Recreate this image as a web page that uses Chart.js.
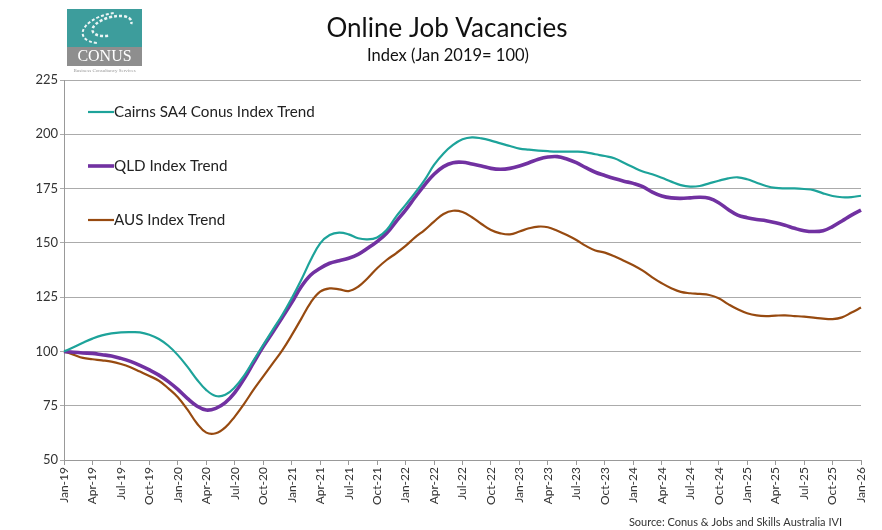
<!DOCTYPE html>
<html>
<head>
<meta charset="utf-8">
<title>Online Job Vacancies</title>
<script src="https://cdn.jsdelivr.net/npm/chart.js@4/dist/chart.umd.min.js"></script>
<style>
  html, body { margin: 0; padding: 0; background: #fff; }
  #wrap { width: 882px; height: 530px; }
</style>
</head>
<body>
<div id="wrap"><canvas id="chart" width="882" height="530"></canvas></div>
<script>
// --- Datos (índice Ene 2019 = 100), mensual Jan-19 .. Jan-26 ---
const MONTH_NAMES = ['Jan', 'Feb', 'Mar', 'Apr', 'May', 'Jun', 'Jul', 'Aug', 'Sep', 'Oct', 'Nov', 'Dec'];
const labels = [];
for (let yy = 19; yy <= 26; yy++) {
    for (let m = 0; m < 12; m++) {
        if (yy === 26 && m > 0) break;
        labels.push(MONTH_NAMES[m] + '-' + yy);
    }
}

const seriesNames = ['Cairns SA4 Conus Index Trend', 'QLD Index Trend', 'AUS Index Trend'];

const cairns = [
    100, 101.9, 104, 105.9, 107.4, 108.3, 108.8, 108.9, 108.8, 107.7, 105.7, 102.6,
    98.3, 93, 87.1, 82.2, 79.5, 80, 83.5, 89, 96, 103, 109.9, 116.8,
    124.5, 132.9, 142.1, 149.8, 153.6, 154.7, 153.9, 152.1, 151.6, 152.5, 155.9, 162.1,
    167.5, 173, 178.9, 185.9, 191.2, 195.1, 197.7, 198.6, 198.1, 197.1, 195.8, 194.6,
    193.4, 192.9, 192.5, 192.2, 192, 192, 192, 191.7, 190.8, 190, 189, 186.9,
    184.8, 182.9, 181.6, 180, 178.2, 176.6, 175.9, 176.2, 177.4, 178.6, 179.7, 180.2,
    179.3, 177.7, 176.2, 175.3, 175.1, 175.1, 174.8, 174.3, 172.8, 171.6, 171, 171.1,
    171.7
];

const qld = [
    100, 99.6, 99.3, 99.1, 98.5, 97.9, 96.8, 95.4, 93.6, 91.5, 89.1, 86.1,
    82.5, 78.4, 74.9, 73, 73.8, 76.4, 81, 87.5, 95, 102.2, 108.8, 115.6,
    122.5, 129.8, 135.2, 138.3, 140.6, 141.8, 142.9, 144.7, 147.5, 150.6, 154.4, 159.8,
    165.1, 171, 176.6, 181.6, 185.1, 186.9, 187.1, 186.3, 185.4, 184.3, 183.9, 184.3,
    185.4, 186.9, 188.5, 189.5, 189.7, 188.6, 186.9, 184.6, 182.5, 181, 179.6, 178.4,
    177.4, 175.9, 173.4, 171.6, 170.7, 170.5, 170.7, 171, 170.5, 168.5, 165.4, 162.8,
    161.6, 160.8, 160.2, 159.3, 158.1, 156.7, 155.6, 155.2, 155.6, 157.5, 160.1, 162.8,
    165.1
];

const aus = [
    100, 98.5, 97, 96.4, 95.9, 95.3, 94.2, 92.7, 90.7, 88.7, 86.5, 83,
    78.9, 73.3, 66.9, 62.6, 62.3, 65, 70, 76, 82.5, 88.5, 94.5, 100.5,
    107.5, 115, 122.5, 127.5, 129, 128.6, 127.8, 129.8, 133.7, 138.3, 142.1, 145.2,
    148.6, 152.5, 155.9, 159.8, 163.3, 164.8, 164.2, 161.8, 158.7, 155.9, 154.4, 153.9,
    155.2, 156.7, 157.5, 157.2, 155.6, 153.6, 151.3, 148.6, 146.5, 145.5, 143.8, 141.8,
    139.7, 137.2, 134.1, 131.4, 129.1, 127.4, 126.8, 126.5, 126, 124.5, 121.8, 119.4,
    117.6, 116.6, 116.3, 116.5, 116.6, 116.3, 116, 115.6, 115.1, 114.9, 115.7, 117.9,
    120.2
];

const yTicks = { min: 50, max: 225, step: 25 };

const FONT = 'Lato, "Open Sans", sans-serif';
const COLORS = ['#1da39a', '#7131a1', '#974a10'];
const WIDTHS = [2.2, 3.6, 2.2];

// Títulos, logo y fuente
const decorPlugin = {
    id: 'decor',
    afterDraw(chart) {
        const ctx = chart.ctx;
        ctx.save();

        // título
        ctx.fillStyle = '#111';
        ctx.textAlign = 'center';
        ctx.textBaseline = 'middle';
        ctx.font = '26px ' + FONT;
        ctx.fillText('Online Job Vacancies', 447, 29);
        ctx.font = '16.5px ' + FONT;
        ctx.fillText('Index (Jan 2019= 100)', 448, 56);

        // logo CONUS
        ctx.fillStyle = '#3d9d9c';
        ctx.fillRect(67, 9, 75, 38);
        ctx.fillStyle = '#8e8e8e';
        ctx.fillRect(67, 47, 75, 19);
        ctx.strokeStyle = 'rgba(255,255,255,0.9)';
        ctx.setLineDash([3, 2]);
        ctx.lineWidth = 2.5;
        ctx.beginPath();
        ctx.ellipse(112, 26, 20, 9, -0.25, Math.PI * 0.6, Math.PI * 2.1);
        ctx.stroke();
        ctx.lineWidth = 2;
        ctx.beginPath();
        ctx.ellipse(110, 28, 28, 14, -0.25, Math.PI * 0.7, Math.PI * 1.6);
        ctx.stroke();
        ctx.setLineDash([]);
        ctx.fillStyle = '#fff';
        ctx.font = '16px "Liberation Serif", serif';
        ctx.fillText('CONUS', 104.5, 57);
        ctx.fillStyle = '#999';
        ctx.font = '5px "Liberation Serif", serif';
        ctx.fillText('Business Consultancy Services', 104.5, 71);

        // fuente
        ctx.fillStyle = '#333';
        ctx.textAlign = 'right';
        ctx.font = '11px ' + FONT;
        ctx.fillText('Source: Conus & Jobs and Skills Australia IVI', 842, 522);
        ctx.restore();
    }
};

// Leyenda dentro del área del gráfico
const insideLegend = {
    id: 'insideLegend',
    afterDatasetsDraw(chart) {
        const ctx = chart.ctx;
        const left = chart.chartArea.left;
        const top = chart.chartArea.top;
        ctx.save();
        chart.data.datasets.forEach((ds, i) => {
            const y = top + 32 + i * 54;
            ctx.strokeStyle = ds.borderColor;
            ctx.lineWidth = ds.borderWidth;
            ctx.beginPath();
            ctx.moveTo(left + 24, y);
            ctx.lineTo(left + 50, y);
            ctx.stroke();
            ctx.fillStyle = '#222';
            ctx.font = '15.2px ' + FONT;
            ctx.textAlign = 'left';
            ctx.textBaseline = 'middle';
            ctx.fillText(ds.label, left + 50, y);
        });
        ctx.restore();
    }
};

const datasets = [cairns, qld, aus].map((values, i) => ({
    label: seriesNames[i],
    data: values,
    borderColor: COLORS[i],
    backgroundColor: COLORS[i],
    borderWidth: WIDTHS[i],
    pointRadius: 0,
    tension: 0.4,
    fill: false
}));

new Chart(document.getElementById('chart'), {
    type: 'line',
    data: { labels: labels, datasets: datasets },
    options: {
        responsive: false,
        animation: false,
        layout: { padding: { top: 80, right: 21, bottom: 0, left: 0 } },
        plugins: {
            legend: { display: false },
            title: { display: false },
            tooltip: { enabled: false }
        },
        scales: {
            x: {
                type: 'category',
                offset: false,
                grid: {
                    drawOnChartArea: false,
                    drawTicks: true,
                    tickLength: 5,
                    color: ctx => (ctx.index % 3 === 0 ? '#999' : 'rgba(0,0,0,0)')
                },
                border: { color: '#999' },
                ticks: {
                    autoSkip: false,
                    maxRotation: 90,
                    minRotation: 90,
                    padding: 2,
                    color: '#333',
                    font: { family: FONT, size: 12 },
                    callback: function (v, i) {
                        return i % 3 === 0 ? this.getLabelForValue(v) : '';
                    }
                },
                afterFit: s => { s.height = 70; }
            },
            y: {
                min: yTicks.min,
                max: yTicks.max,
                ticks: {
                    stepSize: yTicks.step,
                    padding: 2,
                    color: '#333',
                    font: { family: FONT, size: 13 }
                },
                grid: { color: '#ababab', tickLength: 4 },
                border: { color: '#999' },
                afterFit: s => { s.width = 64; }
            }
        }
    },
    plugins: [decorPlugin, insideLegend]
});
</script>
</body>
</html>
